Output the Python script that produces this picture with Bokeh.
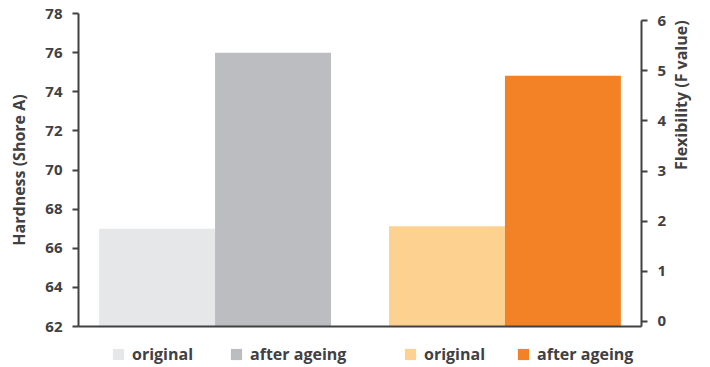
import math
from bokeh.plotting import figure
from bokeh.layouts import column
from bokeh.models import (FactorRange, Range1d, LinearAxis, FixedTicker,
                          Legend, LegendItem, ColumnDataSource)
from bokeh.embed import file_html
from bokeh.resources import INLINE

# ---- data -------------------------------------------------------------
groups = ["Hardness", "Flexibility"]
states = ["original", "after ageing"]
hardness = [67.0, 76.0]          # Shore A
flexibility = [1.9, 4.9]         # F value
hardness_colors = ["#e6e7e8", "#bcbdc0"]
flex_colors = ["#fdd291", "#f38226"]
hardness_ticks = [62, 64, 66, 68, 70, 72, 74, 76, 78]
flex_ticks = [0, 1, 2, 3, 4, 5, 6]

HARD_MIN, HARD_MAX = 62, 78
FLEX_MIN, FLEX_MAX = -0.1, 6.14

INK = "#414042"
FONT = "Open Sans"

factors = [(g, s) for g in groups for s in states]


def category_range():
    return FactorRange(*factors, factor_padding=0, group_padding=0.5,
                       range_padding=0.079)


src_h = ColumnDataSource(dict(x=[("Hardness", s) for s in states],
                              top=hardness, color=hardness_colors))
src_f = ColumnDataSource(dict(x=[("Flexibility", s) for s in states],
                              top=flexibility, color=flex_colors))

# ---- main chart -------------------------------------------------------
p = figure(width=710, height=341, output_backend="svg", toolbar_location=None,
           x_range=category_range(), y_range=Range1d(HARD_MIN, HARD_MAX),
           min_border_left=78, min_border_right=69,
           min_border_top=13, min_border_bottom=15)
p.outline_line_color = None
p.grid.visible = False
p.extra_y_ranges = {"flex": Range1d(FLEX_MIN, FLEX_MAX)}

p.vbar(x="x", top="top", bottom=HARD_MIN, width=1.0, source=src_h,
       fill_color="color", line_color=None)
p.vbar(x="x", top="top", bottom=FLEX_MIN, width=1.0, source=src_f,
       fill_color="color", line_color=None, y_range_name="flex")

# bottom (category) axis: only its line is shown
xa = p.xaxis[0]
xa.axis_line_color = INK
xa.axis_line_width = 2
xa.major_tick_line_color = None
xa.major_tick_out = 0
xa.major_tick_in = 0
xa.major_label_text_font_size = "0px"
xa.group_text_font_size = "0px"
xa.major_label_standoff = 0
xa.group_text_color = None
xa.major_label_text_color = None
xa.separator_line_color = None

# left axis: hardness
ya = p.yaxis[0]
ya.ticker = FixedTicker(ticks=hardness_ticks)
ya.axis_label = "Hardness (Shore A)"

# right axis: flexibility
ra = LinearAxis(y_range_name="flex", ticker=FixedTicker(ticks=flex_ticks),
                axis_label="Flexibility (F value)", bounds=(FLEX_MIN, 6))
p.add_layout(ra, "right")

for ax in (ya, ra):
    ax.axis_line_color = INK
    ax.axis_line_width = 2
    ax.major_tick_line_color = INK
    ax.major_tick_line_width = 2
    ax.major_tick_in = 0
    ax.major_tick_out = 6
    ax.minor_tick_line_color = None
    ax.major_label_standoff = 10
    ax.major_label_text_font = FONT
    ax.major_label_text_font_style = "bold"
    ax.major_label_text_font_size = "15px"
    ax.major_label_text_color = INK
    ax.axis_label_text_font = FONT
    ax.axis_label_text_font_style = "bold"
    ax.axis_label_text_font_size = "16px"
    ax.axis_label_text_color = INK
    ax.axis_label_standoff = 12

# the right-hand title reads upward like the left one, centred on its axis
ra.axis_label_orientation = math.pi / 2
ra.axis_label_text_align = "center"

# ---- legend strip under the chart --------------------------------------
lg = figure(width=710, height=26, output_backend="svg", toolbar_location=None,
            x_range=category_range(), y_range=Range1d(100, 101),
            min_border=0)
lg.outline_line_color = None
lg.grid.visible = False
lg.axis.visible = False

# legend swatches take their colours from these renderers (outside the view)
lr_h = lg.vbar(x="x", top="top", bottom=HARD_MIN, width=1.0, source=src_h,
               fill_color="color", line_color=None)
lr_f = lg.vbar(x="x", top="top", bottom=FLEX_MIN, width=1.0, source=src_f,
               fill_color="color", line_color=None)


def add_legend(renderer, x_off, spacing):
    leg = Legend(items=[LegendItem(label=s, renderers=[renderer], index=i)
                        for i, s in enumerate(states)],
                 orientation="horizontal", location=(x_off, 2),
                 padding=0, margin=0, spacing=spacing,
                 glyph_width=14, glyph_height=14, label_standoff=7,
                 label_text_font=FONT, label_text_font_style="bold",
                 label_text_font_size="16px", label_text_color=INK,
                 border_line_color=None, background_fill_alpha=0)
    lg.add_layout(leg)


add_legend(lr_h, 33, 36)
add_legend(lr_f, 325, 31)

open("out.html", "w").write(file_html(column(p, lg, spacing=0), INLINE))
